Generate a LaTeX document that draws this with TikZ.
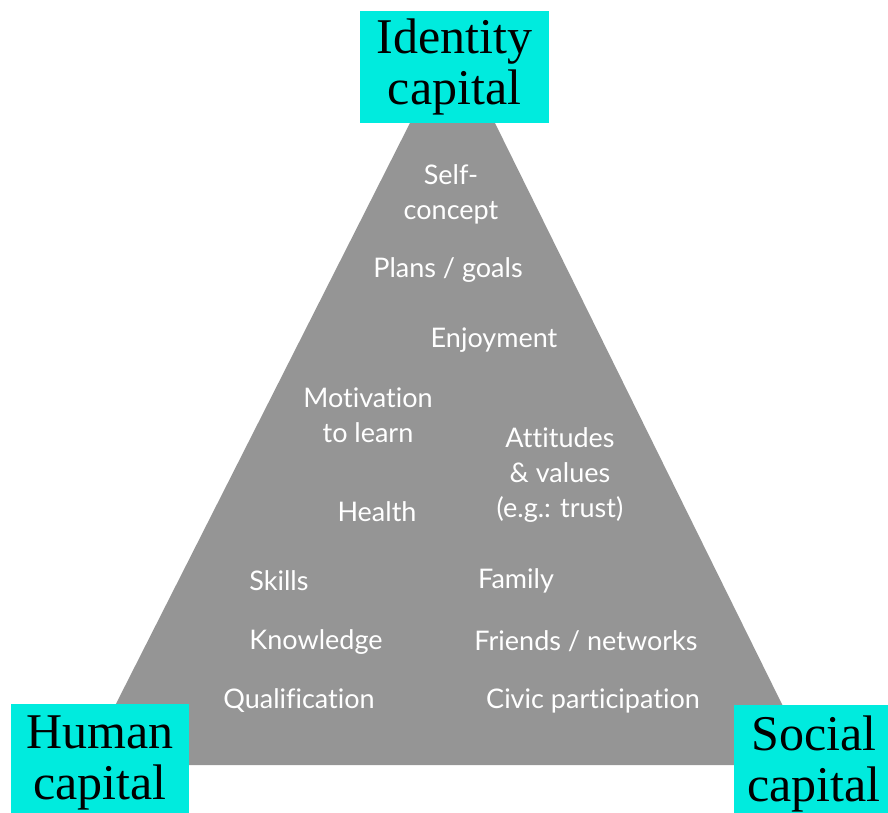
\documentclass[tikz,border=0pt]{standalone}
\usepackage{fontspec}
\setmainfont{Liberation Serif}
\newfontfamily\itemfont[Ligatures=NoCommon]{Lato}
\definecolor{capcyan}{RGB}{0,235,222}
\definecolor{pyrgrey}{RGB}{149,149,149}

\begin{document}
\begin{tikzpicture}[x=1pt, y=-1pt, align=center,
    capbox/.style={fill=capcyan, inner sep=0, font=\fontsize{50}{51}\selectfont},
    item/.style={text=white, inner sep=0, font=\itemfont\fontsize{27}{35}\selectfont}]
      \useasboundingbox (0,0) rectangle (888,812);
      \clip (0,0) rectangle (888,812);

      \fill[pyrgrey] (85,765) -- (812,765) -- (453,38) -- cycle;

      \node[item] (self) at (451,194) {Self-\\ concept};
      \node[item] (plans) at (448,270) {Plans / goals};
      \node[item] (enjoy) at (494,340) {Enjoyment};
      \node[item] (motiv) at (368,415) {Motivation\\ to learn};
      \node[item] (attit) at (560,475) {Attitudes\\ \& values\\ (e.g.: trust)};
      \node[item] (health) at (377,512) {Health};
      \node[item] (skills) at (279,581) {Skills};
      \node[item] (family) at (516,581) {Family};
      \node[item] (knowl) at (316,642) {Knowledge};
      \node[item] (friends) at (586,641) {Friends / networks};
      \node[item] (qualif) at (299,701) {Qualification};
      \node[item] (civic) at (593,701) {Civic participation};

      \node[capbox, minimum width=189, minimum height=112] (ident) at (454.5,67) {Identity\\ capital};
      \node[capbox, minimum width=178, minimum height=118] (human) at (100,763) {Human\\ capital};
      \node[capbox, minimum width=160, minimum height=118] (social) at (814,764) {Social\\ capital};
    \end{tikzpicture}
\end{document}
